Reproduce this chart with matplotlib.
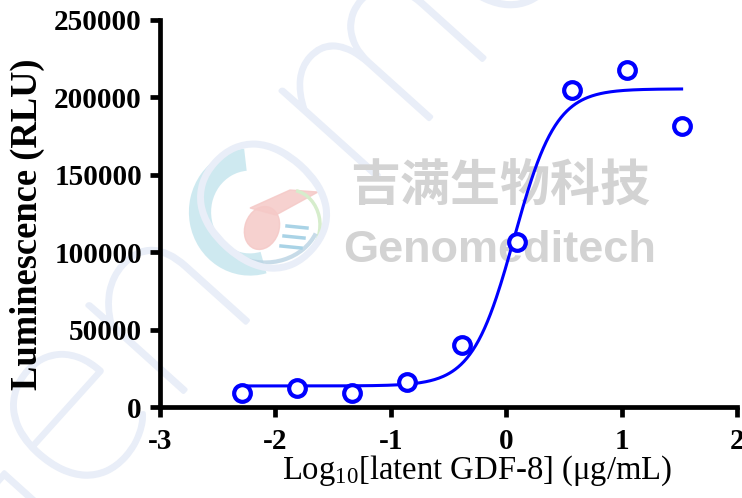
import numpy as np
import matplotlib
matplotlib.use("Agg")
import matplotlib.pyplot as plt
from matplotlib.patches import Arc, Ellipse, Polygon
import matplotlib.patheffects as pe

plt.rcParams["axes.unicode_minus"] = False
plt.rcParams["mathtext.fontset"] = "custom"
plt.rcParams["mathtext.rm"] = "Liberation Serif"
plt.rcParams["mathtext.it"] = "Liberation Serif:italic"

# data
log_conc = [-2.29, -1.81, -1.34, -0.86, -0.38, 0.09, 0.57, 1.05, 1.52]
rlu = [9000, 12300, 9000, 16000, 40000, 106600, 205000, 218000, 181500]

# 4PL fit parameters (as drawn)
fit_bottom = 13600
fit_top = 205500
fit_logec50 = 0.07
fit_hill = 2.4

x_ticks = [-3, -2, -1, 0, 1, 2]
y_ticks = [0, 50000, 100000, 150000, 200000, 250000]

blue = "#0000ff"
wm_blue = "#e9eef8"

fig = plt.figure(figsize=(7.42, 4.98), dpi=100)

# watermark layer (pixel coords)
wm = fig.add_axes([0, 0, 1, 1], zorder=0)
wm.set_xlim(0, 742)
wm.set_ylim(498, 0)
wm.axis("off")
wm.text(215, 250, "Genome", fontsize=190, rotation=48, color=wm_blue,
        ha="center", va="center", family="Lato", fontweight=100,
        rotation_mode="anchor", clip_on=True,
        path_effects=[pe.withStroke(linewidth=3, foreground=wm_blue)])
# logo
wm.add_patch(Arc((250, 212), 100, 105, theta1=75, theta2=265, lw=16,
                 color="#c6e6ee", alpha=0.85))
wm.add_patch(Ellipse((262, 228), 34, 44, angle=20, color="#f5c9c7", alpha=0.85))
wm.add_patch(Polygon([[250, 208], [290, 190], [318, 192], [276, 215]],
                     closed=True, color="#f5c9c7", alpha=0.85))
wm.add_patch(Arc((290, 225), 60, 70, theta1=-80, theta2=55, lw=2.5,
                 color="#d6edcc"))
wm.add_patch(Arc((265, 215), 110, 95, theta1=20, theta2=120, lw=3,
                 color="#b9d3e3", alpha=0.8))
for yy in [226, 236, 246]:
    wm.plot([287 + (yy - 226) * -0.3, 307 + (yy - 226) * -0.3], [yy, yy + 2],
            color="#a9d3e6", lw=2.5)
wm.text(500, 187, "吉满生物科技", fontsize=36, color="#d3d3d3",
        ha="center", va="center", family=["Noto Sans CJK SC", "DejaVu Sans"],
        fontweight="bold")
wm.text(500, 250, "Genomeditech", fontsize=32.5, color="#d3d3d3",
        ha="center", va="center", family="Liberation Sans", fontweight="bold")

ax = fig.add_axes([160 / 742, 1 - 407 / 498, 577 / 742, 387 / 498], zorder=2)
ax.patch.set_alpha(0)

xs = np.linspace(log_conc[0], log_conc[-1], 300)
ys = fit_bottom + (fit_top - fit_bottom) / (1 + 10 ** ((fit_logec50 - xs) * fit_hill))
ax.plot(xs, ys, color=blue, lw=2.2, zorder=3)
ax.plot(log_conc, rlu, "o", ls="none", ms=12, mfc="white", mec=blue, mew=3,
        zorder=4, clip_on=False)

ax.set_xlim(-3, 2)
ax.set_ylim(0, 250000)
ax.set_xticks(x_ticks)
ax.set_yticks(y_ticks)
for s in ["top", "right"]:
    ax.spines[s].set_visible(False)
for s in ["left", "bottom"]:
    ax.spines[s].set_linewidth(3.4)
ax.tick_params(width=3.4, length=7, direction="out", labelsize=21)
ax.tick_params(axis="y", pad=6)
ax.tick_params(axis="x", pad=8)
for lab in ax.get_xticklabels() + ax.get_yticklabels():
    lab.set_fontfamily("Liberation Serif")
    lab.set_fontweight("bold")

ax.set_ylabel("Luminescence (RLU)", fontsize=26.3, fontweight="bold",
              family="Liberation Serif", va="center")
ax.yaxis.set_label_coords(-0.229, 0.472)
ax.set_xlabel(r"Log$_{10}$[latent GDF-8] ($\mathrm{\mu}$g/mL)", fontsize=23.5,
              family="Liberation Serif", va="center")
ax.xaxis.set_label_coords(0.549, -0.165)

fig.savefig("out.png", dpi=100)
